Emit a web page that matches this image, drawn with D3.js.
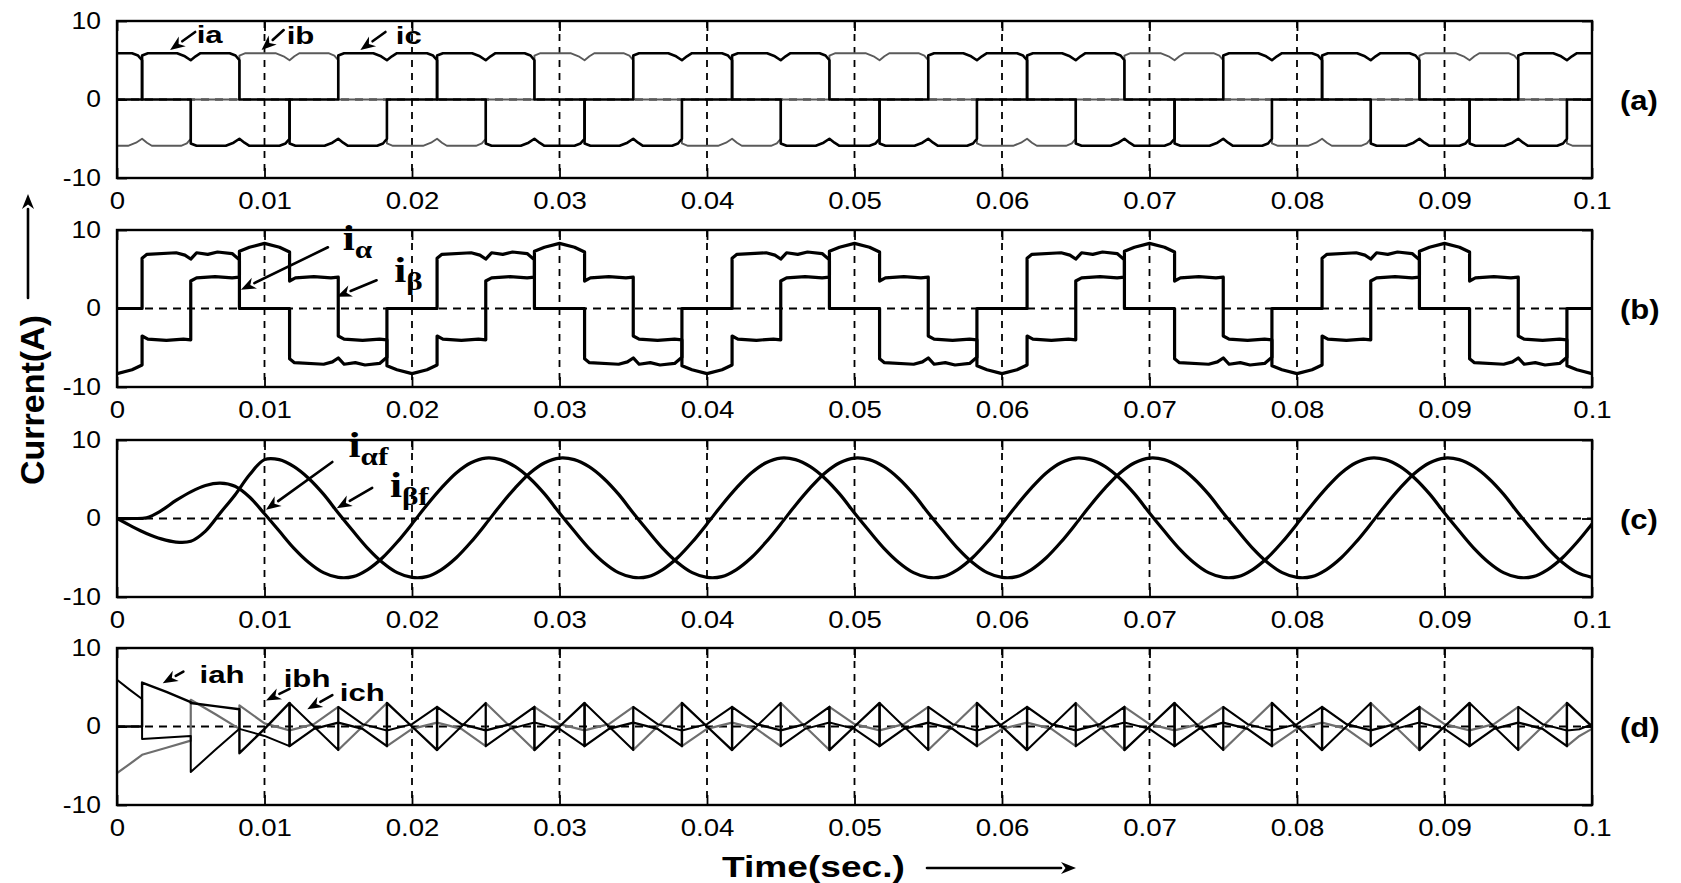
<!DOCTYPE html>
<html>
<head>
<meta charset="utf-8">
<script src="https://cdn.jsdelivr.net/npm/d3@7/dist/d3.min.js"></script>
<style>
  html, body { margin: 0; padding: 0; background: #fff; }
  svg { display: block; }
</style>
</head>
<body>
<svg id="chart" width="1681" height="883"></svg>
<script>
// ---------- axes ----------
const timeTicks = [0, 0.01, 0.02, 0.03, 0.04, 0.05, 0.06, 0.07, 0.08, 0.09, 0.1];
const timeTickLabels = ["0", "0.01", "0.02", "0.03", "0.04", "0.05", "0.06", "0.07", "0.08", "0.09", "0.1"];
const currentTicks = [-10, 0, 10];
const currentTickLabels = ["-10", "0", "10"];
const panelTags = ["(a)", "(b)", "(c)", "(d)"];

// ---------- commutation instants (s), one every 60 electrical degrees ----------
const commutationTimes = [-0.0050, -0.0017, 0.0017, 0.0050, 0.0083, 0.0117, 0.0150, 0.0183, 0.0217,
  0.0250, 0.0283, 0.0317, 0.0350, 0.0383, 0.0417, 0.0450, 0.0483, 0.0517, 0.0550, 0.0583, 0.0617,
  0.0650, 0.0683, 0.0717, 0.0750, 0.0783, 0.0817, 0.0850, 0.0883, 0.0917, 0.0950, 0.0983, 0.1017];

// (a) phase currents: level (A) held in each commutation interval
const iaLevels = [-5.9, 0, 5.9, 5.9, 0, -5.9, -5.9, 0, 5.9, 5.9, 0, -5.9, -5.9, 0, 5.9, 5.9, 0, -5.9, -5.9,
  0, 5.9, 5.9, 0, -5.9, -5.9, 0, 5.9, 5.9, 0, -5.9, -5.9, 0];
const ibLevels = [0, -5.9, -5.9, 0, 5.9, 5.9, 0, -5.9, -5.9, 0, 5.9, 5.9, 0, -5.9, -5.9, 0, 5.9, 5.9, 0,
  -5.9, -5.9, 0, 5.9, 5.9, 0, -5.9, -5.9, 0, 5.9, 5.9, 0, -5.9];
const icLevels = [5.9, 5.9, 0, -5.9, -5.9, 0, 5.9, 5.9, 0, -5.9, -5.9, 0, 5.9, 5.9, 0, -5.9, -5.9, 0, 5.9,
  5.9, 0, -5.9, -5.9, 0, 5.9, 5.9, 0, -5.9, -5.9, 0, 5.9, 5.9];
// ripple on a conducting block: [fraction of interval, change of magnitude (A)]
const blockLeadRipple  = [[0, -0.3], [0.12, 0.0], [0.72, 0.0], [0.88, -0.4], [1, -0.9]];
const blockTrailRipple = [[0, -0.9], [0.1, -0.4], [0.2, 0.0], [0.8, 0.0], [0.92, -0.3], [1, -0.9]];

// (b) alpha-beta currents
const iAlphaLevels = [-7.0, 0, 7.0, 7.0, 0, -7.0, -7.0, 0, 7.0, 7.0, 0, -7.0, -7.0, 0, 7.0, 7.0, 0, -7.0, -7.0,
  0, 7.0, 7.0, 0, -7.0, -7.0, 0, 7.0, 7.0, 0, -7.0, -7.0, 0];
const iBetaLevels = [-3.9, -8.2, -3.9, 3.9, 8.2, 3.9, -3.9, -8.2, -3.9, 3.9, 8.2, 3.9, -3.9, -8.2, -3.9, 3.9,
  8.2, 3.9, -3.9, -8.2, -3.9, 3.9, 8.2, 3.9, -3.9, -8.2, -3.9, 3.9, 8.2, 3.9, -3.9, -8.2];
const alphaLeadRipple    = [[0, -0.6], [0.1, -0.1], [0.7, 0.1], [0.88, -0.2], [1, -0.7]];
const alphaTrailRipple   = [[0, -0.7], [0.12, 0.1], [0.35, -0.1], [0.55, 0.2], [0.85, 0.0], [1, -0.8]];
const betaDomeRipple     = [[0, -0.9], [0.2, -0.4], [0.5, 0.1], [0.8, -0.4], [1, -1.0]];
const betaShoulderRipple = [[0, -0.4], [0.12, 0.0], [0.5, 0.15], [0.85, 0.0], [1, 0.1]];

// (c) filtered alpha-beta currents, one sample per millisecond from 0 to 0.1 s
const sampleStep = 0.001;
const iAlphaF = [0, 0, 0.1, 1.0, 2.3, 3.4, 4.2, 4.5, 4.1, 2.7,
  0.6, -1.6, -3.8, -5.6, -6.9, -7.5, -7.4, -6.5, -5.0, -3.0,
  -0.7, 1.7, 3.9, 5.8, 7.1, 7.7, 7.5, 6.6, 5.1, 3.1,
  0.7, -1.6, -3.8, -5.6, -6.9, -7.5, -7.4, -6.5, -5.0, -3.0,
  -0.7, 1.7, 3.9, 5.8, 7.1, 7.7, 7.5, 6.6, 5.1, 3.1,
  0.7, -1.6, -3.8, -5.6, -6.9, -7.5, -7.4, -6.5, -5.0, -3.0,
  -0.7, 1.7, 3.9, 5.8, 7.1, 7.7, 7.5, 6.6, 5.1, 3.1,
  0.7, -1.6, -3.8, -5.6, -6.9, -7.5, -7.4, -6.5, -5.0, -3.0,
  -0.7, 1.7, 3.9, 5.8, 7.1, 7.7, 7.5, 6.6, 5.1, 3.1,
  0.7, -1.6, -3.8, -5.6, -6.9, -7.5, -7.4, -6.5, -5.0, -3.0,
  -0.7];
const iBetaF = [0, -1.0, -1.9, -2.6, -3.0, -2.9, -1.6, 0.7, 3.0, 5.6,
  7.5, 7.5, 6.6, 5.1, 3.1, 0.7, -1.6, -3.8, -5.6, -6.9,
  -7.5, -7.4, -6.5, -5.0, -3.0, -0.7, 1.7, 3.9, 5.8, 7.1,
  7.7, 7.5, 6.6, 5.1, 3.1, 0.7, -1.6, -3.8, -5.6, -6.9,
  -7.5, -7.4, -6.5, -5.0, -3.0, -0.7, 1.7, 3.9, 5.8, 7.1,
  7.7, 7.5, 6.6, 5.1, 3.1, 0.7, -1.6, -3.8, -5.6, -6.9,
  -7.5, -7.4, -6.5, -5.0, -3.0, -0.7, 1.7, 3.9, 5.8, 7.1,
  7.7, 7.5, 6.6, 5.1, 3.1, 0.7, -1.6, -3.8, -5.6, -6.9,
  -7.5, -7.4, -6.5, -5.0, -3.0, -0.7, 1.7, 3.9, 5.8, 7.1,
  7.7, 7.5, 6.6, 5.1, 3.1, 0.7, -1.6, -3.8, -5.6, -6.9,
  -7.5];

// (d) harmonic currents: [start, middle, end] value (A) in each interval
const harmonicTimes = [0, 0.0017, 0.0050, 0.0083, 0.0117, 0.0150, 0.0183, 0.0217, 0.0250, 0.0283, 0.0317,
  0.0350, 0.0383, 0.0417, 0.0450, 0.0483, 0.0517, 0.0550, 0.0583, 0.0617, 0.0650, 0.0683, 0.0717, 0.0750,
  0.0783, 0.0817, 0.0850, 0.0883, 0.0917, 0.0950, 0.0983, 0.1];
const iahSegments = [[0, 0, 0], [5.6, 4.4, 3.1], [3.0, 2.6, 2.2], [-3.4, -0.3, 3.0],
  [-2.5, -0.3, 0.5], [0.5, -0.3, -2.5], [3.0, 0, -3.0], [2.5, 0.3, -0.5], [-0.5, 0.3, 2.5], [-3.0, 0, 3.0],
  [-2.5, -0.3, 0.5], [0.5, -0.3, -2.5], [3.0, 0, -3.0], [2.5, 0.3, -0.5], [-0.5, 0.3, 2.5], [-3.0, 0, 3.0],
  [-2.5, -0.3, 0.5], [0.5, -0.3, -2.5], [3.0, 0, -3.0], [2.5, 0.3, -0.5], [-0.5, 0.3, 2.5], [-3.0, 0, 3.0],
  [-2.5, -0.3, 0.5], [0.5, -0.3, -2.5], [3.0, 0, -3.0], [2.5, 0.3, -0.5], [-0.5, 0.3, 2.5], [-3.0, 0, 3.0],
  [-2.5, -0.3, 0.5], [0.5, -0.3, -2.5], [3.0, 1.5, 0]];
const ibhSegments = [[-5.95, -4.8, -3.6], [-3.6, -2.7, -1.8], [3.4, 1.6, -0.3], [2.7, 0.4, -0.5],
  [-0.5, 0.3, 2.5], [-3.0, 0, 3.0], [-2.5, -0.3, 0.5], [0.5, -0.3, -2.5], [3.0, 0, -3.0], [2.5, 0.3, -0.5],
  [-0.5, 0.3, 2.5], [-3.0, 0, 3.0], [-2.5, -0.3, 0.5], [0.5, -0.3, -2.5], [3.0, 0, -3.0], [2.5, 0.3, -0.5],
  [-0.5, 0.3, 2.5], [-3.0, 0, 3.0], [-2.5, -0.3, 0.5], [0.5, -0.3, -2.5], [3.0, 0, -3.0], [2.5, 0.3, -0.5],
  [-0.5, 0.3, 2.5], [-3.0, 0, 3.0], [-2.5, -0.3, 0.5], [0.5, -0.3, -2.5], [3.0, 0, -3.0], [2.5, 0.3, -0.5],
  [-0.5, 0.3, 2.5], [-3.0, 0, 3.0], [-2.5, -1.2, -0.3]];
const ichSegments = [[5.95, 4.7, 3.5], [-1.6, -1.4, -1.2], [-5.8, -3.0, -0.3], [-0.3, -1.2, -2.5],
  [3.0, 0, -3.0], [2.5, 0.3, -0.5], [-0.5, 0.3, 2.5], [-3.0, 0, 3.0], [-2.5, -0.3, 0.5], [0.5, -0.3, -2.5],
  [3.0, 0, -3.0], [2.5, 0.3, -0.5], [-0.5, 0.3, 2.5], [-3.0, 0, 3.0], [-2.5, -0.3, 0.5], [0.5, -0.3, -2.5],
  [3.0, 0, -3.0], [2.5, 0.3, -0.5], [-0.5, 0.3, 2.5], [-3.0, 0, 3.0], [-2.5, -0.3, 0.5], [0.5, -0.3, -2.5],
  [3.0, 0, -3.0], [2.5, 0.3, -0.5], [-0.5, 0.3, 2.5], [-3.0, 0, 3.0], [-2.5, -0.3, 0.5], [0.5, -0.3, -2.5],
  [3.0, 0, -3.0], [2.5, 0.3, -0.5], [-0.5, -0.35, 0.3]];

// ---------- annotations, in data units: text [t, A], arrow [t0, A0, t1, A1] ----------
const notesA = [
  { text: "ia", at: [0.0054, 7.2], arrow: [0.0053, 8.6, 0.0036, 6.3] },
  { text: "ib", at: [0.0115, 7.1], arrow: [0.0113, 8.85, 0.0098, 6.3] },
  { text: "ic", at: [0.0189, 7.1], arrow: [0.0182, 8.6, 0.0165, 6.3] }
];
const notesB = [
  { sub: "α", at: [0.0153, 7.4], arrow: [0.0143, 7.8, 0.0084, 2.4] },
  { sub: "β", at: [0.0188, 3.4], arrow: [0.0176, 3.6, 0.0149, 1.5] }
];
const notesC = [
  { sub: "αf", at: [0.0157, 7.8], arrow: [0.0146, 7.2, 0.0101, 1.1] },
  { sub: "βf", at: [0.0185, 2.7], arrow: [0.0173, 3.9, 0.0149, 1.3] }
];
const notesD = [
  { text: "iah", at: [0.0056, 5.5], arrow: [0.0045, 7.0, 0.0031, 5.5] },
  { text: "ibh", at: [0.0113, 5.0], arrow: [0.0117, 4.8, 0.0101, 3.3] },
  { text: "ich", at: [0.0151, 3.3], arrow: [0.0146, 4.0, 0.0129, 2.2] }
];

// ---------- layout ----------
const svg = d3.select("#chart");
const plotLeft = 117, plotRight = 1592;
const panelTops = [21, 230, 440, 648];
const panelHeight = 157;
const textStretch = 1.25;
const sansFont = "'Liberation Sans', Arial, Helvetica, sans-serif";
const serifFont = "'Liberation Serif', 'Times New Roman', serif";

const x = d3.scaleLinear().domain([0, 0.1]).range([plotLeft, plotRight]);

// builds a polyline from interval levels and a ripple profile per interval
function levelTrace(levels, rippleFor) {
  const pts = [];
  levels.forEach((level, i) => {
    const t0 = commutationTimes[i], t1 = commutationTimes[i + 1];
    if (level === 0) { pts.push([t0, 0], [t1, 0]); return; }
    const sgn = Math.sign(level), mag = Math.abs(level);
    rippleFor(level, i, levels).forEach(([f, dv]) => pts.push([t0 + f * (t1 - t0), sgn * (mag + dv)]));
  });
  return pts;
}
const blockRipple = (lead, trail) => (level, i, levels) =>
  (i > 0 && levels[i - 1] === level) ? trail : lead;

function segmentTrace(segs) {
  const pts = [];
  segs.forEach((s, i) => {
    const t0 = harmonicTimes[i], t1 = harmonicTimes[i + 1];
    pts.push([t0, s[0]], [(t0 + t1) / 2, s[1]], [t1, s[2]]);
  });
  return pts;
}

function sampleTrace(values) {
  return values.map((v, i) => [i * sampleStep, v]);
}

function stretchedText(g, str, px, py, opts) {
  return g.append("text")
    .attr("transform", `translate(${px},${py}) scale(${opts.stretch || textStretch},1)`)
    .attr("font-family", opts.family || sansFont)
    .attr("font-size", opts.size)
    .attr("font-weight", opts.weight || "normal")
    .attr("text-anchor", opts.anchor || "start")
    .attr("fill", "#000")
    .text(str);
}

function drawArrow(g, x1, y1, x2, y2, w) {
  const ang = Math.atan2(y2 - y1, x2 - x1);
  const L = 15, hw = 6;
  const bx = x2 - L * Math.cos(ang), by = y2 - L * Math.sin(ang);
  g.append("line").attr("x1", x1).attr("y1", y1).attr("x2", bx).attr("y2", by)
    .attr("stroke", "#000").attr("stroke-width", w || 2.6).attr("stroke-linecap", "round");
  const px = -Math.sin(ang) * hw, py = Math.cos(ang) * hw;
  g.append("path")
    .attr("d", `M${x2},${y2}L${bx + px},${by + py}L${bx + L * 0.3 * Math.cos(ang)},${by + L * 0.3 * Math.sin(ang)}L${bx - px},${by - py}Z`)
    .attr("fill", "#000");
}

const panels = panelTops.map((top, k) => {
  const y = d3.scaleLinear().domain([-10, 10]).range([top + panelHeight, top]);
  const g = svg.append("g");
  const clipId = "clip" + k;
  svg.append("clipPath").attr("id", clipId).append("rect")
    .attr("x", plotLeft).attr("y", top).attr("width", plotRight - plotLeft).attr("height", panelHeight);

  // dashed grid
  g.append("g").selectAll("line").data(timeTicks.slice(1, -1)).join("line")
    .attr("x1", d => x(d)).attr("x2", d => x(d)).attr("y1", top).attr("y2", top + panelHeight)
    .attr("stroke", "#000").attr("stroke-width", 1.8).attr("stroke-dasharray", "7,6");
  g.append("line").attr("x1", plotLeft).attr("x2", plotRight).attr("y1", y(0)).attr("y2", y(0))
    .attr("stroke", "#000").attr("stroke-width", 1.8).attr("stroke-dasharray", "8,6");

  // axes with inward ticks
  const bottom = g.append("g").attr("transform", `translate(0,${top + panelHeight})`)
    .call(d3.axisBottom(x).tickValues(timeTicks).tickFormat((d, i) => timeTickLabels[i])
      .tickSizeInner(-10).tickSizeOuter(0).tickPadding(15));
  const left = g.append("g").attr("transform", `translate(${plotLeft},0)`)
    .call(d3.axisLeft(y).tickValues(currentTicks).tickFormat((d, i) => currentTickLabels[i])
      .tickSizeInner(-10).tickSizeOuter(0).tickPadding(16));
  g.append("g").attr("transform", `translate(0,${top})`)
    .call(d3.axisTop(x).tickValues(timeTicks).tickFormat("").tickSizeInner(-10).tickSizeOuter(0));
  g.append("g").attr("transform", `translate(${plotRight},0)`)
    .call(d3.axisRight(y).tickValues(currentTicks).tickFormat("").tickSizeInner(-10).tickSizeOuter(0));
  g.selectAll(".domain").remove();
  g.selectAll(".tick line").attr("stroke", "#000").attr("stroke-width", 1.8);
  [bottom, left].forEach(ax => ax.attr("font-family", sansFont).attr("font-size", 23));
  bottom.selectAll("text").attr("fill", "#000").attr("transform", "scale(1.2,1)");
  left.selectAll("text").attr("fill", "#000").attr("x", -16 / 1.15).attr("transform", "scale(1.15,1)");

  const plot = g.append("g").attr("clip-path", `url(#${clipId})`);

  // frame
  g.append("rect").attr("x", plotLeft).attr("y", top).attr("width", plotRight - plotLeft)
    .attr("height", panelHeight).attr("fill", "none").attr("stroke", "#000").attr("stroke-width", 2.4);

  stretchedText(g, panelTags[k], 1620, y(0) + 10, { size: 27, weight: "bold", stretch: 1.15 });
  return { g, plot, y, top };
});

const lineOf = (y, curve) => d3.line().x(d => x(d[0])).y(d => y(d[1])).curve(curve || d3.curveLinear);

function drawTrace(panel, pts, stroke, width, curve) {
  panel.plot.append("path").datum(pts)
    .attr("d", lineOf(panel.y, curve))
    .attr("fill", "none").attr("stroke", stroke).attr("stroke-width", width)
    .attr("stroke-linejoin", "round").attr("stroke-linecap", "round");
}

// (a)
const pA = panels[0];
drawTrace(pA, levelTrace(ibLevels, blockRipple(blockLeadRipple, blockTrailRipple)), "#5a5a5a", 1.9);
drawTrace(pA, levelTrace(icLevels, blockRipple(blockLeadRipple, blockTrailRipple)), "#000", 2.6);
drawTrace(pA, levelTrace(iaLevels, blockRipple(blockLeadRipple, blockTrailRipple)), "#000", 2.6);

// (b)
const pB = panels[1];
drawTrace(pB, levelTrace(iAlphaLevels, blockRipple(alphaLeadRipple, alphaTrailRipple)), "#000", 3.2);
drawTrace(pB, levelTrace(iBetaLevels, (level) => Math.abs(level) > 6 ? betaDomeRipple : betaShoulderRipple), "#000", 3.2);

// (c)
const pC = panels[2];
drawTrace(pC, sampleTrace(iAlphaF), "#000", 3.2, d3.curveCatmullRom.alpha(0.5));
drawTrace(pC, sampleTrace(iBetaF), "#000", 3.2, d3.curveCatmullRom.alpha(0.5));

// (d)
const pD = panels[3];
drawTrace(pD, segmentTrace(ibhSegments), "#6e6e6e", 2.2);
drawTrace(pD, segmentTrace(ichSegments), "#000", 2.0);
drawTrace(pD, segmentTrace(iahSegments), "#000", 2.4);

// ---------- annotations ----------
function plainNotes(panel, notes, size) {
  notes.forEach(n => {
    stretchedText(panel.g, n.text, x(n.at[0]), panel.y(n.at[1]), { size, weight: "bold", stretch: 1.3 });
    drawArrow(panel.g, x(n.arrow[0]), panel.y(n.arrow[1]), x(n.arrow[2]), panel.y(n.arrow[3]));
  });
}
function greekNotes(panel, notes) {
  notes.forEach(n => {
    const px = x(n.at[0]), py = panel.y(n.at[1]);
    const t = panel.g.append("text")
      .attr("transform", `translate(${px},${py}) scale(1.2,1)`)
      .attr("font-family", serifFont).attr("font-weight", "bold").attr("fill", "#000");
    t.append("tspan").attr("font-size", 36).text("i");
    t.append("tspan").attr("font-size", 26).attr("dy", 8).text(n.sub);
    drawArrow(panel.g, x(n.arrow[0]), panel.y(n.arrow[1]), x(n.arrow[2]), panel.y(n.arrow[3]));
  });
}
plainNotes(pA, notesA, 24);
greekNotes(pB, notesB);
greekNotes(pC, notesC);
plainNotes(pD, notesD, 24);

// ---------- axis titles ----------
svg.append("text")
  .attr("transform", "translate(44,400) rotate(-90)")
  .attr("font-family", sansFont).attr("font-size", 34).attr("font-weight", "bold")
  .attr("text-anchor", "middle").attr("fill", "#000").text("Current(A)");
drawArrow(svg, 28, 298, 28, 194, 2.6);

stretchedText(svg, "Time(sec.)", 722, 877, { size: 29, weight: "bold", stretch: 1.28 });
drawArrow(svg, 927, 868, 1076, 868, 2.6);
</script>
</body>
</html>
